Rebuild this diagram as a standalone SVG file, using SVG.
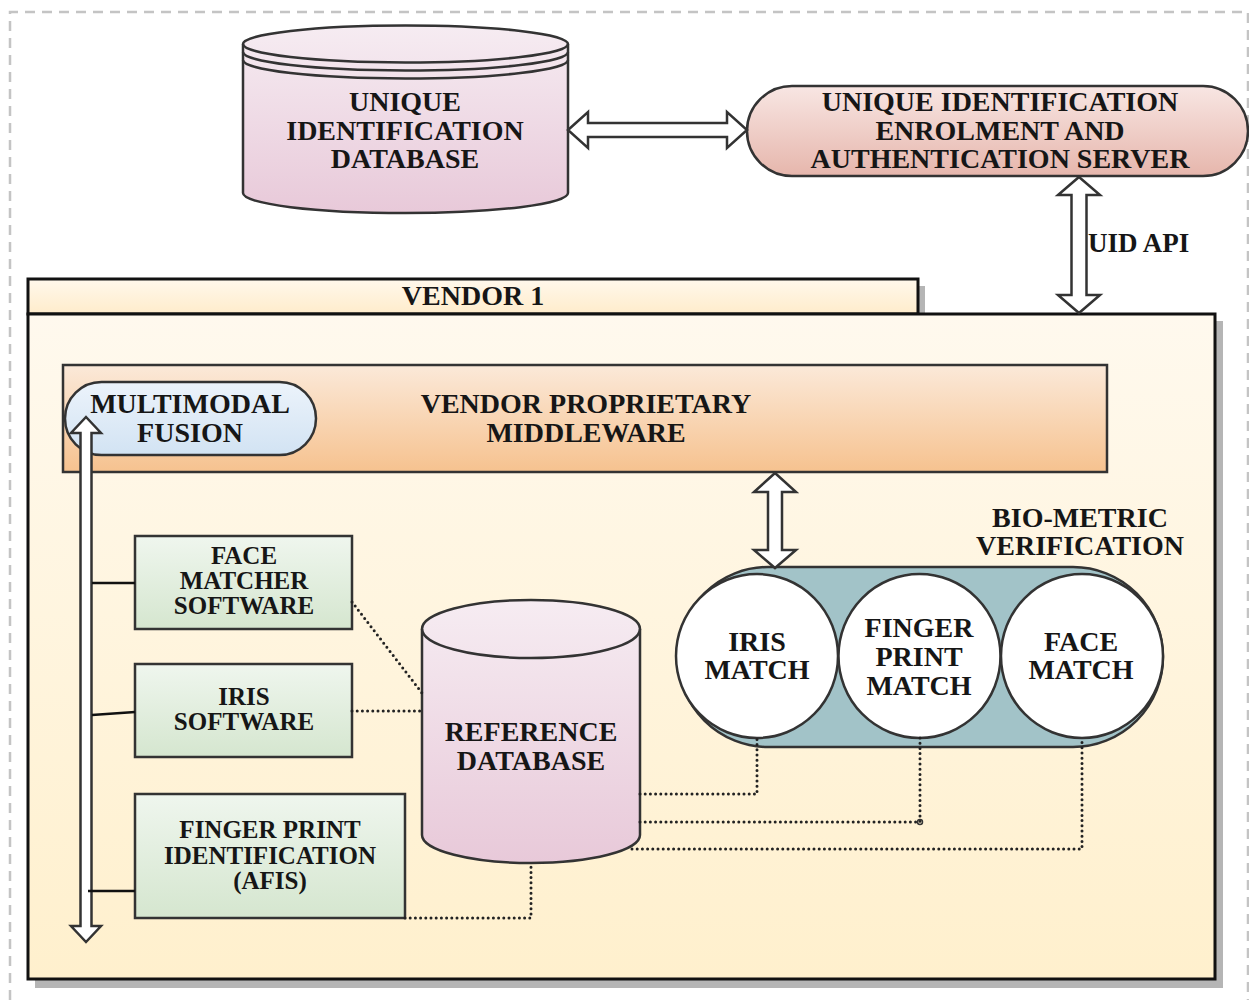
<svg xmlns="http://www.w3.org/2000/svg" width="1249" height="1000" viewBox="0 0 1249 1000">
<defs>
<linearGradient id="gPink" x1="0" y1="0" x2="0" y2="1"><stop offset="0" stop-color="#f6ecf2"/><stop offset="1" stop-color="#e8c9d9"/></linearGradient>
<linearGradient id="gServer" x1="0" y1="0" x2="0" y2="1"><stop offset="0" stop-color="#f8e6e3"/><stop offset="1" stop-color="#e6b6ac"/></linearGradient>
<linearGradient id="gMid" x1="0" y1="0" x2="0" y2="1"><stop offset="0" stop-color="#fbe9d9"/><stop offset="1" stop-color="#f6c28f"/></linearGradient>
<linearGradient id="gBlue" x1="0" y1="0" x2="0" y2="1"><stop offset="0" stop-color="#ecf3fb"/><stop offset="1" stop-color="#d2e3f3"/></linearGradient>
<linearGradient id="gGreen" x1="0" y1="0" x2="0" y2="1"><stop offset="0" stop-color="#eff6ee"/><stop offset="1" stop-color="#d5e6cf"/></linearGradient>
<linearGradient id="gVendor" x1="0" y1="0" x2="0" y2="1"><stop offset="0" stop-color="#fff9ee"/><stop offset="1" stop-color="#fff0cd"/></linearGradient>
<linearGradient id="gHead" x1="0" y1="0" x2="0" y2="1"><stop offset="0" stop-color="#fff8ec"/><stop offset="1" stop-color="#ffeccb"/></linearGradient>
</defs>
<style>
text{font-family:"Liberation Serif","Times New Roman",serif;font-weight:bold;fill:#161616;text-anchor:middle}
.t28{font-size:28px}
.t25{font-size:25px}
.node{stroke:#333;stroke-width:2.5}
.arrow{fill:#fff;stroke:#333;stroke-width:2.5;stroke-linejoin:miter}
.dot{fill:none;stroke:#222;stroke-width:3;stroke-dasharray:0 5.2;stroke-linecap:round}
.solid{fill:none;stroke:#111;stroke-width:2.5}
.shadow{fill:#b5b5b5}
</style>

<path d="M10,1000 V12 H1248 V1000" fill="none" stroke="#c4c4c4" stroke-width="2.5" stroke-dasharray="10 7"/>

<g id="vendor1">
  <rect class="shadow" x="35" y="321" width="1188" height="667"/>
  <rect class="shadow" x="918" y="286" width="7" height="30"/>
  <rect x="28" y="279" width="890" height="35" fill="url(#gHead)" stroke="#111" stroke-width="3"/>
  <rect x="28" y="314" width="1187" height="665" fill="url(#gVendor)" stroke="#111" stroke-width="3"/>
  <text class="t28" x="473" y="305">VENDOR 1</text>
</g>

<g id="uid-database">
  <path class="node" fill="url(#gPink)" d="M243,44 L243,193 A162.5,20 0 0 0 568,193 L568,44 A162.5,18.5 0 0 0 243,44 Z"/>
  <path class="node" fill="none" d="M243,44 A162.5,18.5 0 0 0 568,44"/>
  <path class="node" fill="none" d="M243,52 A162.5,18.5 0 0 0 568,52"/>
  <path class="node" fill="none" d="M243,60 A162.5,18.5 0 0 0 568,60"/>
  <text class="t28" x="405" y="111">UNIQUE</text>
  <text class="t28" x="405" y="140">IDENTIFICATION</text>
  <text class="t28" x="405" y="168">DATABASE</text>
</g>

<g id="uid-server">
  <rect class="node" x="747" y="86" width="501" height="90" rx="45" ry="45" fill="url(#gServer)"/>
  <text class="t28" x="1000" y="111">UNIQUE IDENTIFICATION</text>
  <text class="t28" x="1000" y="140">ENROLMENT AND</text>
  <text class="t28" x="1000" y="168">AUTHENTICATION SERVER</text>
</g>

<g id="middleware">
  <rect class="node" x="63" y="365" width="1044" height="107" fill="url(#gMid)"/>
  <text class="t28" x="586" y="413">VENDOR PROPRIETARY</text>
  <text class="t28" x="586" y="442">MIDDLEWARE</text>
</g>

<g id="multimodal-fusion">
  <rect class="node" x="65" y="382" width="251" height="73" rx="36.5" ry="36.5" fill="url(#gBlue)"/>
  <text class="t28" x="190" y="413">MULTIMODAL</text>
  <text class="t28" x="190" y="442">FUSION</text>
</g>

<g id="face-matcher">
  <rect class="node" x="135" y="536" width="217" height="93" fill="url(#gGreen)"/>
  <text class="t25" x="244" y="564">FACE</text>
  <text class="t25" x="244" y="589">MATCHER</text>
  <text class="t25" x="244" y="614">SOFTWARE</text>
</g>

<g id="iris-software">
  <rect class="node" x="135" y="664" width="217" height="93" fill="url(#gGreen)"/>
  <text class="t25" x="244" y="705">IRIS</text>
  <text class="t25" x="244" y="730">SOFTWARE</text>
</g>

<g id="fingerprint-afis">
  <rect class="node" x="135" y="794" width="270" height="124" fill="url(#gGreen)"/>
  <text class="t25" x="270" y="838">FINGER PRINT</text>
  <text class="t25" x="270" y="864">IDENTIFICATION</text>
  <text class="t25" x="270" y="889">(AFIS)</text>
</g>

<g id="reference-database">
  <path class="node" fill="url(#gPink)" d="M422,629 L422,835 A109,28 0 0 0 640,835 L640,629 A109,29 0 0 0 422,629 Z"/>
  <path class="node" fill="none" d="M422,629 A109,29 0 0 0 640,629"/>
  <text class="t28" x="531" y="741">REFERENCE</text>
  <text class="t28" x="531" y="770">DATABASE</text>
</g>

<g id="biometric-verification">
  <rect class="node" x="678" y="567" width="485" height="180" rx="90" ry="90" fill="#a2c3c8"/>
  <ellipse class="node" cx="757" cy="656" rx="81" ry="82" fill="#fff"/>
  <ellipse class="node" cx="919.5" cy="656" rx="81" ry="82" fill="#fff"/>
  <ellipse class="node" cx="1082" cy="656" rx="81" ry="82" fill="#fff"/>
  <text class="t28" x="757" y="651">IRIS</text>
  <text class="t28" x="757" y="679">MATCH</text>
  <text class="t28" x="919" y="637">FINGER</text>
  <text class="t28" x="919" y="666">PRINT</text>
  <text class="t28" x="919" y="695">MATCH</text>
  <text class="t28" x="1081" y="651">FACE</text>
  <text class="t28" x="1081" y="679">MATCH</text>
  <text class="t28" x="1080" y="527">BIO-METRIC</text>
  <text class="t28" x="1080" y="555">VERIFICATION</text>
</g>

<g id="connectors">
  <polygon class="arrow" points="568,130 588,112 588,123 727,123 727,112 747,130 727,148 727,137 588,137 588,148"/>
  <polygon class="arrow" points="1079,177 1100,195 1086.5,195 1086.5,295 1100,295 1079,313 1058,295 1071.5,295 1071.5,195 1058,195"/>
  <text x="1088" y="252" class="t28" style="text-anchor:start;font-size:27px">UID API</text>
  <polygon class="arrow" points="775,473 796,492 782,492 782,550 796,550 775,568 754,550 768,550 768,492 754,492"/>
  <polygon class="arrow" points="86,417 101,433 91.5,433 91.5,926 101,926 86,942 71,926 80.5,926 80.5,433 71,433"/>
  <path class="solid" d="M92,583 H135"/>
  <path class="solid" d="M92,715 L135,712"/>
  <path class="solid" d="M88,891 H135"/>
  <path class="dot" d="M352,602 L422,693"/>
  <path class="dot" d="M352,711 H422"/>
  <path class="dot" d="M405,918 H531 V864"/>
  <path class="dot" d="M640,794 H757 V738"/>
  <path class="dot" d="M640,822 H920 V738"/>
  <path class="dot" d="M632,849 H1082 V738"/>
  <circle cx="920" cy="822" r="2.5" fill="none" stroke="#333" stroke-width="1.5"/>
</g>
</svg>
